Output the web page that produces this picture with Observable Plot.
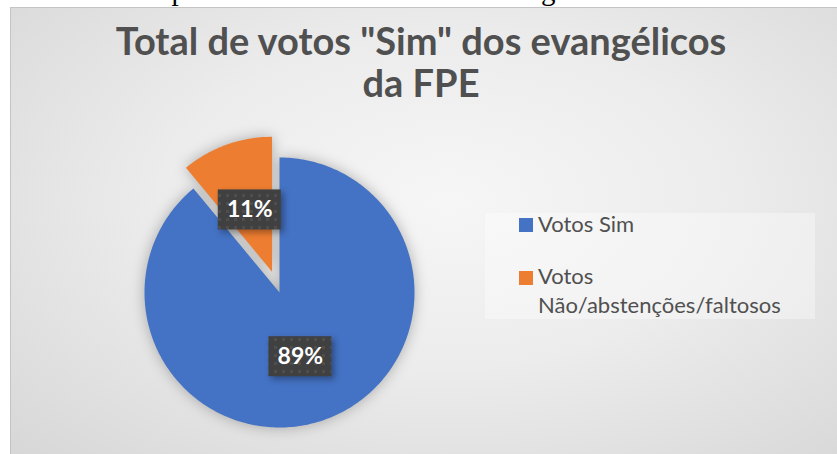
<!DOCTYPE html>
<html><head><meta charset="utf-8">
<script src="https://cdn.jsdelivr.net/npm/d3@7"></script>
<script src="https://cdn.jsdelivr.net/npm/@observablehq/plot@0.6"></script>
<style>
body{margin:0;width:837px;height:454px;overflow:hidden;background:#fff;position:relative;font-family:Lato,sans-serif;}
#doc{position:absolute;right:122px;top:-24px;font-family:"Liberation Serif",serif;font-size:29px;line-height:29px;white-space:nowrap;color:#000;}
#chartbg{position:absolute;left:10px;top:7px;width:840px;height:460px;border:1px solid #c4c4c4;
 background:radial-gradient(ellipse 75% 80% at 52% 42%, #f6f6f6 0%, #ececec 45%, #dedede 80%, #d6d6d6 100%);}
#plot{position:absolute;left:0;top:0;}
#title{position:absolute;left:101px;top:19px;width:640px;text-align:center;font-family:Lato,sans-serif;font-weight:bold;font-size:38px;line-height:42px;color:#505050;}
#legend{position:absolute;left:485px;top:213px;width:330px;height:106px;background:rgba(255,255,255,0.35);}
.item{position:absolute;left:0;width:330px;}
.sw{position:absolute;left:34px;width:14px;height:14px;}
.lt{position:absolute;left:53px;width:270px;font-size:22px;line-height:29px;color:#505050;font-family:Lato,sans-serif;}
</style></head>
<body>
<div id="doc">Total de votos “Sim” à reforma recebidos pelos membros declarados evangélicos da FPE</div>
<div id="chartbg"></div>
<div id="plot"></div>
<div id="title">Total de votos "Sim" dos evangélicos da FPE</div>
<div id="legend"></div>
<script>
// ---- data ----
const categories = ["Votos Sim", "Votos Não/abstenções/faltosos"];
const values = [89, 11];
const labels = ["89%", "11%"];
const colors = ["#4472C4", "#ED7D31"];

// ---- layout (not data) ----
const cx = 279, cy = 292, R = 135;
const explode = [0, 0.163];
const labelPlace = [{angle: 162, r: 0.5}, {angle: null, r: 0.65}];
const boxW = 63 / R, boxH = 40 / R;

const rows = categories.map((c, i) => ({cat: c, value: values[i], label: labels[i]}));
const arcs = d3.pie().sort(null).value(d => d.value).startAngle(0).endAngle(2 * Math.PI)(rows);

const pts = [];
const lbl = [];
arcs.forEach((a, i) => {
  const mid = (a.startAngle + a.endAngle) / 2;
  const ox = explode[i] * Math.sin(mid), oy = explode[i] * Math.cos(mid);
  const cat = a.data.cat;
  pts.push({cat, x: ox, y: oy});
  const n = Math.max(8, Math.ceil((a.endAngle - a.startAngle) / (Math.PI / 180)));
  for (let k = 0; k <= n; k++) {
    const t = a.startAngle + (a.endAngle - a.startAngle) * k / n;
    pts.push({cat, x: ox + Math.sin(t), y: oy + Math.cos(t)});
  }
  pts.push({cat, x: ox, y: oy});
  const lp = labelPlace[i];
  const ang = lp.angle == null ? mid : lp.angle * Math.PI / 180;
  const lx = lp.r * Math.sin(ang), ly = lp.r * Math.cos(ang);
  lbl.push({cat, label: a.data.label, x: lx, y: ly,
    x1: lx - boxW / 2, x2: lx + boxW / 2, y1: ly - boxH / 2, y2: ly + boxH / 2});
});

const svg = Plot.plot({
  width: 837, height: 454,
  margin: 0,
  x: {domain: [-1, 1], range: [cx - R, cx + R], axis: null},
  y: {domain: [-1, 1], range: [cy + R, cy - R], axis: null},
  color: {domain: categories, range: colors},
  marks: [
    Plot.line(pts, {x: "x", y: "y", z: "cat", fill: "cat", stroke: "none"}),
    Plot.rect(lbl, {x1: "x1", x2: "x2", y1: "y1", y2: "y2", fill: "url(#dots)"}),
    Plot.text(lbl, {x: "x", y: "y", text: "label", fill: "white", fontSize: 23, fontWeight: "bold", fontFamily: "Lato"})
  ]
});
svg.style.background = "transparent";
svg.style.overflow = "visible";

const defs = d3.select(svg).insert("defs", ":first-child");
const pat = defs.append("pattern").attr("id", "dots").attr("width", 8).attr("height", 8).attr("patternUnits", "userSpaceOnUse");
pat.append("rect").attr("width", 8).attr("height", 8).attr("fill", "#404040");
pat.append("rect").attr("x", 2).attr("y", 2).attr("width", 3).attr("height", 3).attr("fill", "#4e4e4e");
const groups = svg.querySelectorAll(":scope > g");
if (groups[0]) groups[0].style.filter = "drop-shadow(0px 0px 7px rgba(0,0,0,0.28))";
if (groups[1]) groups[1].style.filter = "drop-shadow(3px 3px 3px rgba(0,0,0,0.35))";
document.getElementById("plot").appendChild(svg);

// legend
const lg = d3.select("#legend");
const itemTop = [0, 52];
const swTop = [5, 6];
categories.forEach((c, i) => {
  const it = lg.append("div").attr("class", "item").style("top", itemTop[i] + "px");
  it.append("div").attr("class", "sw").style("top", swTop[i] + "px").style("background", colors[i]);
  it.append("div").attr("class", "lt").style("top", "-4px").text(c);
});
</script>
</body></html>
